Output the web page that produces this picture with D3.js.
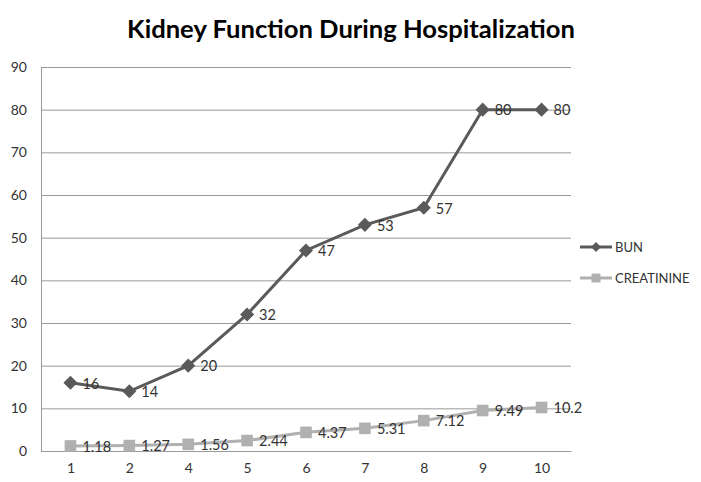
<!DOCTYPE html>
<html><head><meta charset="utf-8">
<script src="https://cdn.jsdelivr.net/npm/d3@7"></script>
<style>body{margin:0;background:#fff}svg{display:block}</style>
</head><body>
<svg id="c" width="701" height="482"></svg>
<script>
const categories = ["1","2","4","5","6","7","8","9","10"];
const bun = [16,14,20,32,47,53,57,80,80];
const creatinine = [1.18,1.27,1.56,2.44,4.37,5.31,7.12,9.49,10.2];
const yTicks = [0,10,20,30,40,50,60,70,80,90];
const seriesNames = ["BUN","CREATININE"];

(function(){
const svg = d3.select("#c");
const font = "Lato, 'Open Sans', sans-serif";
const pL = 41, pR = 571, pT = 67, pB = 451;
const x = d3.scalePoint().domain(categories).range([pL, pR]).padding(0.5);
const y = d3.scaleLinear().domain([0,90]).range([pB, pT]);

svg.append("text").attr("x", 351).attr("y", 38).attr("text-anchor","middle")
  .attr("font-family", font).attr("font-weight","bold").attr("font-size", 25.6).attr("fill","#000")
  .text("Kidney Function During Hospitalization");

const yAxis = d3.axisLeft(y).tickValues(yTicks).tickSize(-(pR-pL)).tickPadding(14);
const gy = svg.append("g").attr("transform",`translate(${pL},0)`).call(yAxis);
gy.select(".domain").remove();
gy.selectAll(".tick line").attr("stroke","#9a9a9a").attr("stroke-width",1);
gy.selectAll(".tick text").attr("font-family",font).attr("font-size",14).attr("fill","#333");

svg.append("line").attr("x1",pL+0.5).attr("x2",pL+0.5).attr("y1",pT).attr("y2",pB).attr("stroke","#9a9a9a");

const xAxis = d3.axisBottom(x).tickSize(0).tickPadding(12);
const gx = svg.append("g").attr("transform",`translate(0,${pB})`).call(xAxis);
gx.select(".domain").attr("stroke","#9a9a9a");
gx.selectAll(".tick text").attr("font-family",font).attr("font-size",14).attr("fill","#333");

const line = d3.line().x((d,i)=>x(categories[i])).y(d=>y(d));
const colBun = "#5a5a5a", colCr = "#b0b0b0";

const diamondSym = { draw(ctx, size){ const r = Math.sqrt(size/2); ctx.moveTo(0,-r); ctx.lineTo(r,0); ctx.lineTo(0,r); ctx.lineTo(-r,0); ctx.closePath(); } };

function drawSeries(data, col, shape, size){
  svg.append("path").datum(data).attr("d", line).attr("fill","none").attr("stroke",col).attr("stroke-width",3);
  svg.append("g").selectAll("path").data(data).join("path")
    .attr("transform",(d,i)=>`translate(${x(categories[i])},${y(d)})`)
    .attr("d", d3.symbol().type(shape).size(size)).attr("fill",col);
  svg.append("g").selectAll("text").data(data).join("text")
    .attr("x",(d,i)=>x(categories[i])+12).attr("y",d=>y(d)).attr("dy","0.4em")
    .attr("font-family",font).attr("font-size",14.5).attr("fill","#333").text(d=>d);
}
drawSeries(bun, colBun, diamondSym, 100);
drawSeries(creatinine, colCr, d3.symbolSquare, 135);

const leg = [{n:seriesNames[0],c:colBun,s:diamondSym,z:50,y:247},{n:seriesNames[1],c:colCr,s:d3.symbolSquare,z:80,y:278}];
leg.forEach(l=>{
  svg.append("line").attr("x1",580).attr("x2",612).attr("y1",l.y).attr("y2",l.y).attr("stroke",l.c).attr("stroke-width",3);
  svg.append("path").attr("transform",`translate(596,${l.y})`).attr("d",d3.symbol().type(l.s).size(l.z)).attr("fill",l.c);
  svg.append("text").attr("x",615).attr("y",l.y).attr("dy","0.36em").attr("font-family",font).attr("font-size",13).attr("fill","#333").text(l.n);
});
})();
</script>
</body></html>
